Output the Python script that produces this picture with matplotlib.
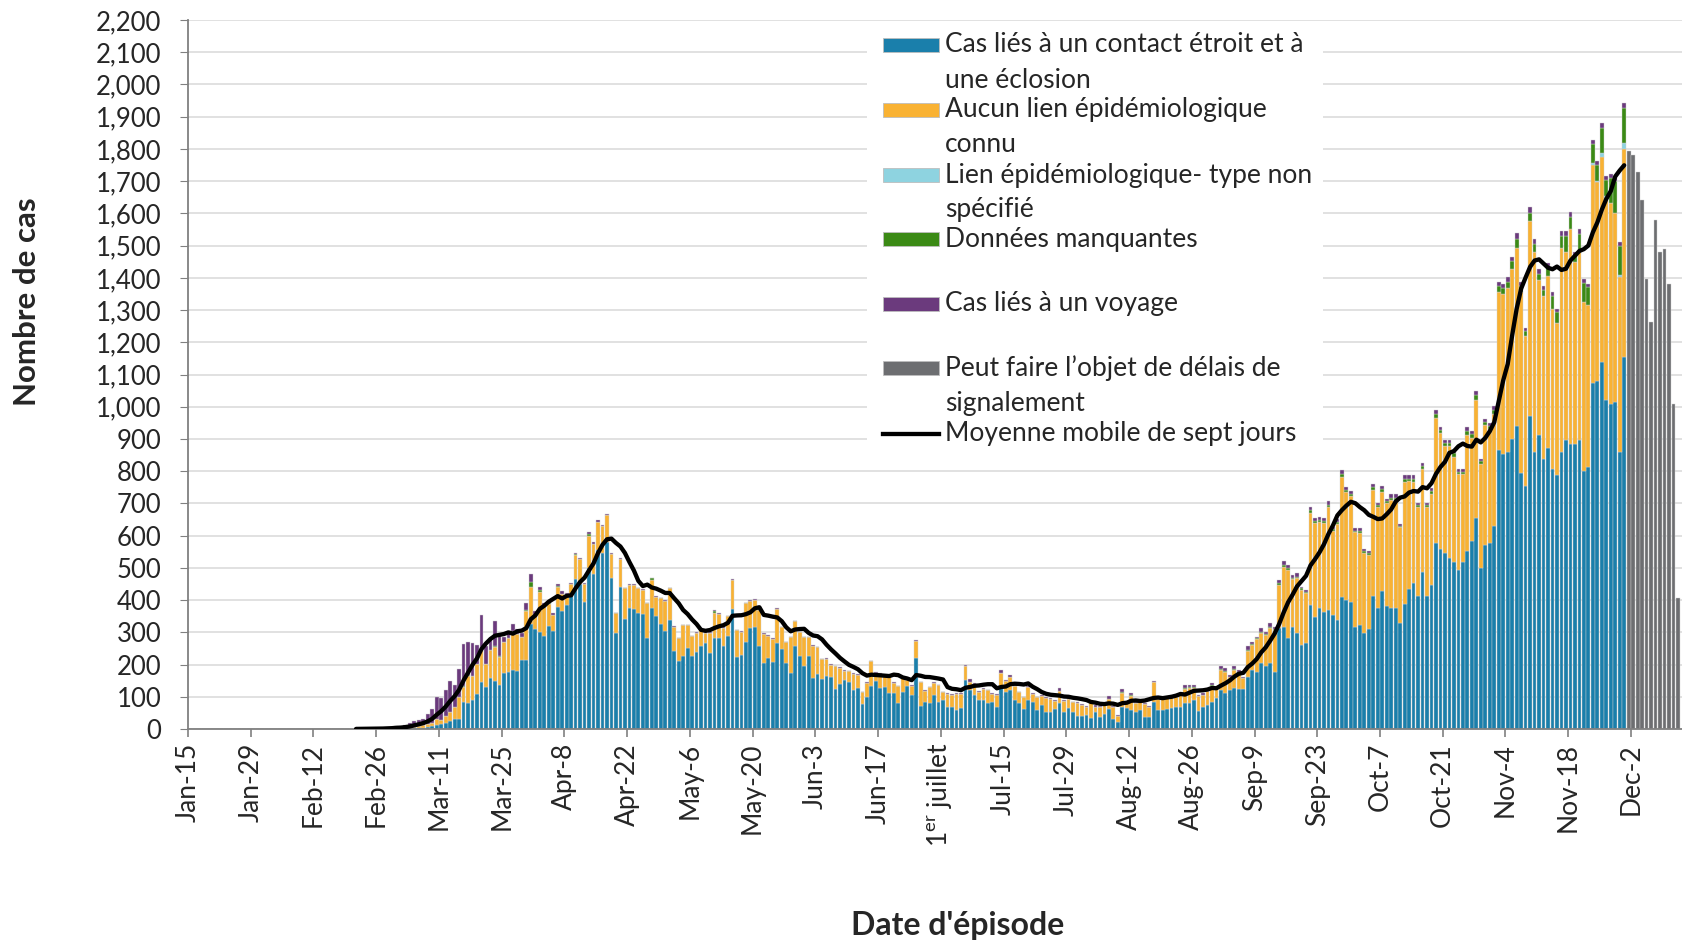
import numpy as np
import pandas as pd
import matplotlib
matplotlib.use("Agg")
import matplotlib.pyplot as plt
from matplotlib.patches import Rectangle
from matplotlib.lines import Line2D
from matplotlib.ticker import MultipleLocator, FuncFormatter

plt.rcParams['font.family'] = ['Lato', 'DejaVu Sans']
plt.rcParams['mathtext.fontset'] = 'custom'
plt.rcParams['mathtext.rm'] = 'Lato'

# daily cases by episode date, 2020-01-15 .. 2020-11-30 (one row = 14 days)
start = pd.Timestamp('2020-01-15')

close_contact = [
    0, 0, 0, 0, 0, 0, 0, 0, 0, 0, 0, 0, 0, 0,
    0, 0, 0, 0, 0, 0, 0, 0, 0, 0, 0, 0, 0, 0,
    0, 0, 0, 0, 0, 0, 0, 0, 0, 0, 0, 0, 0, 0,
    0, 0, 0, 0, 0, 0, 1, 1, 2, 3, 4, 6, 8, 12,
    15, 18, 26, 32, 30, 85, 80, 90, 110, 145, 131, 157, 150, 136,
    175, 178, 182, 180, 215, 215, 325, 310, 300, 290, 320, 305, 380, 365,
    385, 420, 465, 450, 395, 500, 480, 555, 545, 580, 470, 298, 440, 340,
    376, 371, 361, 356, 283, 375, 352, 325, 305, 337, 241, 210, 225, 251,
    225, 240, 256, 268, 235, 282, 282, 258, 290, 373, 222, 230, 270, 312,
    315, 256, 204, 219, 209, 268, 247, 204, 175, 258, 225, 196, 225, 157,
    170, 155, 165, 160, 124, 140, 151, 145, 121, 126, 78, 100, 134, 150,
    126, 129, 111, 111, 82, 116, 132, 106, 220, 71, 85, 80, 106, 85,
    90, 69, 69, 59, 64, 152, 121, 106, 90, 90, 80, 85, 69, 126,
    116, 121, 90, 80, 62, 90, 85, 59, 75, 54, 54, 62, 80, 54,
    64, 54, 40, 40, 42, 33, 54, 38, 45, 61, 30, 23, 69, 64,
    59, 54, 59, 38, 38, 85, 59, 59, 61, 64, 67, 67, 80, 80,
    90, 57, 69, 75, 85, 95, 121, 111, 121, 126, 123, 125, 162, 183,
    178, 204, 194, 204, 178, 313, 318, 282, 318, 297, 261, 266, 384, 349,
    375, 364, 369, 354, 338, 411, 401, 395, 316, 323, 297, 310, 414, 375,
    427, 382, 375, 375, 329, 388, 434, 454, 414, 486, 414, 447, 578, 558,
    545, 532, 519, 493, 519, 552, 584, 656, 499, 571, 578, 630, 865, 852,
    859, 900, 940, 793, 754, 970, 859, 911, 839, 872, 806, 787, 859, 898,
    885, 885, 898, 800, 813, 1074, 1081, 1140, 1022, 1009, 1016, 859, 1153,
]

no_link = [
    0, 0, 0, 0, 0, 0, 0, 0, 0, 0, 0, 0, 0, 0,
    0, 0, 0, 0, 0, 0, 0, 0, 0, 0, 0, 0, 0, 0,
    0, 0, 0, 0, 0, 0, 0, 0, 0, 0, 0, 0, 0, 0,
    0, 0, 0, 1, 1, 1, 2, 3, 4, 5, 7, 9, 12, 20,
    13, 22, 28, 37, 70, 46, 86, 75, 92, 110, 72, 88, 104, 88,
    95, 105, 120, 115, 70, 150, 115, 45, 125, 90, 68, 48, 60, 55,
    35, 30, 75, 78, 56, 98, 95, 88, 85, 83, 73, 61, 89, 97,
    72, 76, 75, 76, 107, 88, 59, 81, 92, 100, 76, 71, 97, 71,
    63, 58, 54, 30, 63, 79, 75, 55, 60, 89, 84, 72, 120, 85,
    86, 114, 91, 71, 71, 105, 69, 65, 110, 76, 75, 89, 60, 102,
    83, 61, 53, 40, 71, 50, 30, 34, 50, 42, 36, 43, 76, 25,
    45, 34, 49, 33, 50, 44, 20, 27, 52, 74, 34, 49, 38, 50,
    24, 40, 38, 50, 45, 42, 25, 34, 26, 33, 40, 25, 38, 49,
    33, 41, 44, 34, 36, 41, 24, 39, 27, 42, 39, 26, 38, 34,
    28, 29, 42, 34, 25, 50, 15, 30, 30, 31, 37, 18, 44, 19,
    43, 28, 28, 40, 31, 61, 33, 33, 36, 37, 32, 38, 44, 47,
    37, 46, 38, 42, 49, 32, 62, 66, 41, 57, 52, 33, 81, 77,
    100, 94, 99, 110, 129, 135, 186, 212, 148, 171, 171, 157, 286, 289,
    268, 274, 319, 261, 299, 371, 333, 327, 294, 286, 250, 231, 329, 313,
    307, 319, 335, 335, 297, 379, 335, 313, 274, 322, 274, 283, 387, 359,
    333, 346, 326, 297, 271, 361, 320, 366, 324, 372, 352, 346, 491, 499,
    508, 528, 554, 563, 466, 605, 622, 482, 506, 533, 497, 472, 632, 581,
    668, 563, 584, 525, 503, 677, 615, 635, 625, 623, 585, 543, 646,
]

missing = [
    0, 0, 0, 0, 0, 0, 0, 0, 0, 0, 0, 0, 0, 0,
    0, 0, 0, 0, 0, 0, 0, 0, 0, 0, 0, 0, 0, 0,
    0, 0, 0, 0, 0, 0, 0, 0, 0, 0, 0, 0, 0, 0,
    0, 0, 0, 0, 0, 0, 0, 0, 0, 0, 0, 0, 0, 0,
    0, 0, 0, 0, 0, 2, 2, 0, 0, 0, 0, 0, 2, 2,
    0, 0, 3, 0, 0, 5, 15, 0, 5, 4, 3, 0, 5, 0,
    0, 0, 2, 0, 0, 8, 0, 0, 0, 0, 0, 0, 0, 0,
    0, 0, 0, 0, 0, 4, 0, 0, 0, 0, 0, 0, 0, 0,
    0, 0, 0, 0, 0, 6, 0, 0, 0, 0, 0, 0, 0, 0,
    0, 3, 0, 0, 0, 0, 0, 0, 0, 0, 0, 0, 0, 0,
    0, 0, 0, 0, 0, 0, 0, 0, 0, 0, 0, 0, 0, 0,
    0, 0, 0, 0, 0, 0, 0, 0, 0, 0, 0, 0, 0, 0,
    0, 0, 0, 0, 0, 2, 0, 0, 0, 0, 0, 0, 0, 0,
    0, 0, 0, 0, 0, 0, 0, 0, 0, 0, 0, 0, 0, 0,
    0, 0, 0, 0, 0, 0, 0, 0, 0, 2, 0, 0, 2, 0,
    2, 0, 0, 0, 0, 0, 0, 2, 0, 0, 2, 0, 3, 2,
    2, 0, 0, 0, 2, 0, 3, 3, 0, 3, 2, 0, 3, 3,
    3, 4, 3, 4, 3, 5, 6, 5, 4, 5, 4, 3, 8, 6,
    6, 6, 8, 5, 6, 10, 8, 8, 5, 6, 5, 5, 8, 6,
    10, 6, 8, 8, 5, 10, 8, 10, 6, 8, 6, 8, 12, 10,
    10, 10, 10, 8, 8, 12, 10, 14, 8, 10, 10, 14, 18, 16,
    20, 24, 28, 20, 14, 26, 24, 20, 18, 28, 40, 34, 40, 50,
    35, 20, 55, 60, 55, 60, 50, 78, 48, 78, 98, 90, 110,
]

travel = [
    0, 0, 0, 0, 0, 0, 0, 0, 0, 0, 1, 0, 0, 0,
    0, 0, 1, 0, 0, 0, 0, 0, 1, 0, 0, 0, 0, 0,
    0, 0, 0, 1, 0, 0, 0, 1, 0, 0, 2, 0, 1, 2,
    3, 2, 4, 5, 7, 5, 9, 14, 18, 20, 21, 32, 41, 68,
    68, 82, 96, 68, 86, 132, 101, 102, 60, 98, 54, 38, 79, 62,
    15, 15, 20, 14, 13, 20, 25, 11, 12, 8, 6, 6, 6, 8,
    3, 4, 4, 4, 3, 4, 4, 4, 3, 3, 3, 2, 3, 2,
    3, 2, 3, 2, 2, 3, 2, 2, 2, 2, 2, 2, 2, 2,
    2, 2, 2, 2, 2, 2, 2, 2, 2, 2, 2, 2, 2, 2,
    2, 2, 2, 2, 2, 2, 2, 2, 2, 2, 2, 2, 2, 2,
    2, 2, 2, 2, 2, 2, 2, 2, 2, 2, 2, 2, 2, 2,
    2, 2, 2, 3, 2, 2, 2, 4, 4, 2, 2, 2, 3, 2,
    2, 2, 3, 2, 3, 3, 8, 2, 2, 3, 2, 2, 3, 8,
    3, 6, 3, 2, 2, 3, 2, 2, 4, 2, 2, 2, 8, 2,
    3, 2, 3, 4, 3, 2, 6, 2, 3, 8, 3, 2, 8, 2,
    8, 3, 3, 2, 3, 4, 3, 4, 3, 4, 4, 3, 10, 8,
    8, 3, 4, 4, 6, 4, 8, 8, 6, 8, 6, 4, 10, 8,
    6, 10, 6, 10, 8, 10, 10, 10, 8, 10, 6, 6, 12, 10,
    8, 10, 10, 8, 8, 12, 10, 10, 8, 8, 6, 6, 10, 8,
    10, 8, 10, 10, 6, 10, 10, 10, 8, 10, 8, 10, 12, 10,
    10, 10, 10, 8, 8, 12, 10, 12, 8, 10, 10, 12, 14, 14,
    14, 14, 16, 12, 10, 18, 14, 14, 12, 14, 12, 10, 14, 16,
    16, 12, 14, 10, 10, 14, 12, 16, 12, 12, 12, 14, 16,
]

# epi link, type not specified: only a few days at the end
unspecified_dates = ['2020-11-23', '2020-11-24', '2020-11-25', '2020-11-26', '2020-11-29', '2020-11-30']
unspecified_vals = [4, 3, 12, 8, 6, 18]

# last 12 days, subject to reporting delay
delayed_start = pd.Timestamp('2020-12-01')
delayed = [1793, 1780, 1728, 1643, 1395, 1264, 1578, 1480, 1489, 1381, 1009, 408]

tick_labels = ['Jan-15', 'Jan-29', 'Feb-12', 'Feb-26', 'Mar-11', 'Mar-25', 'Apr-8', 'Apr-22',
               'May-6', 'May-20', 'Jun-3', 'Jun-17', '1$^{\\rm er}$ juillet', 'Jul-15', 'Jul-29',
               'Aug-12', 'Aug-26', 'Sep-9', 'Sep-23', 'Oct-7', 'Oct-21', 'Nov-4', 'Nov-18', 'Dec-2']
tick_dates = pd.date_range('2020-01-15', '2020-12-02', freq='14D')

c_blue, c_orange, c_light, c_green, c_purple, c_gray = '#1a7fab', '#f9b233', '#8ed3e0', '#3b8a15', '#6b3a7d', '#6d6e71'
text_col = '#262626'

n = len(close_contact)
unspecified = np.zeros(n)
for d, v in zip(unspecified_dates, unspecified_vals):
    unspecified[(pd.Timestamp(d) - start).days] = v

W, H = 1682, 943
fig = plt.figure(figsize=(W / 100, H / 100), dpi=100)
ax = fig.add_axes([188 / W, 1 - 729 / H, (W - 188) / W, (729 - 20) / H])

x = np.arange(n) + 0.5
bottom = np.zeros(n)
for vals, col in [(close_contact, c_blue), (no_link, c_orange), (unspecified, c_light),
                  (missing, c_green), (travel, c_purple)]:
    vals = np.asarray(vals, dtype=float)
    ax.bar(x, vals, width=0.84, bottom=bottom, color=col, edgecolor='#cfcfcf', linewidth=0.3, zorder=2)
    bottom += vals

xd = (delayed_start - start).days + np.arange(len(delayed)) + 0.5
ax.bar(xd, delayed, width=0.84, color=c_gray, edgecolor='#cfcfcf', linewidth=0.3, zorder=2)

# seven day moving average (line only shown from Feb 21 as in source)
ma = pd.Series(bottom).rolling(7).mean()
ma[x < (pd.Timestamp('2020-02-21') - start).days] = np.nan
ax.plot(x, ma, color='black', lw=3.1, zorder=4, solid_capstyle='round')

ax.set_xlim(0, 333.4)
ax.set_ylim(0, 2200)
ax.yaxis.set_major_locator(MultipleLocator(100))
ax.yaxis.set_major_formatter(FuncFormatter(lambda v, p: f'{int(v):,}'))
ax.yaxis.grid(True, color='#d9d9d9', lw=1.1)
ax.set_axisbelow(True)

ax.set_xticks((tick_dates - start).days)
ax.set_xticklabels(tick_labels, rotation=90, fontsize=19, color=text_col)
ax.tick_params(axis='y', labelsize=18.5, labelcolor=text_col, length=6, pad=13, color='#808080')
ax.tick_params(axis='x', length=6, pad=4, color='#808080', width=1.2)
for s in ['top', 'right']:
    ax.spines[s].set_visible(False)
for s in ['left', 'bottom']:
    ax.spines[s].set_color('#808080')
    ax.spines[s].set_linewidth(1.3)

fig.text(27 / W, 1 - 302 / H, 'Nombre de cas', rotation=90, ha='center', va='center',
         fontsize=22.5, fontweight='bold', color=text_col)
fig.text(958 / W, 1 - 925 / H, "Date d'épisode", ha='center', va='center',
         fontsize=23, fontweight='bold', color=text_col)

# legend box drawn by hand (two text lines per entry)
def fx(px):
    return px / W

def fy(py):
    return 1 - py / H

fig.patches.append(Rectangle((fx(867), fy(452)), fx(1323) - fx(867), fy(27) - fy(452),
                             transform=fig.transFigure, facecolor='white', edgecolor='none', zorder=3))
legend_items = [
    (['Cas liés à un contact étroit et à', 'une éclosion'], c_blue, 'patch'),
    (['Aucun lien épidémiologique', 'connu'], c_orange, 'patch'),
    (['Lien épidémiologique- type non', 'spécifié'], c_light, 'patch'),
    (['Données manquantes'], c_green, 'patch'),
    (['Cas liés à un voyage'], c_purple, 'patch'),
    (['Peut faire l\u2019objet de délais de', 'signalement'], c_gray, 'patch'),
    (['Moyenne mobile de sept jours'], 'black', 'line'),
]
row_y = [45, 109.5, 175, 239, 303.5, 368, 433.5]
for (lines, col, kind), y0 in zip(legend_items, row_y):
    if kind == 'patch':
        fig.patches.append(Rectangle((fx(883), fy(y0 + 7)), fx(939) - fx(883), fy(y0 - 7) - fy(y0 + 7),
                                     transform=fig.transFigure, facecolor=col, edgecolor='#bdbdbd',
                                     lw=0.6, zorder=4))
    else:
        fig.lines.append(Line2D([fx(883), fx(939)], [fy(y0), fy(y0)], transform=fig.transFigure,
                                color=col, lw=3.1, zorder=4))
    for i, t in enumerate(lines):
        fig.text(fx(945), fy(y0 + 35 * i), t, ha='left', va='center', fontsize=19, color=text_col, zorder=5)

fig.savefig('out.png', dpi=100)
